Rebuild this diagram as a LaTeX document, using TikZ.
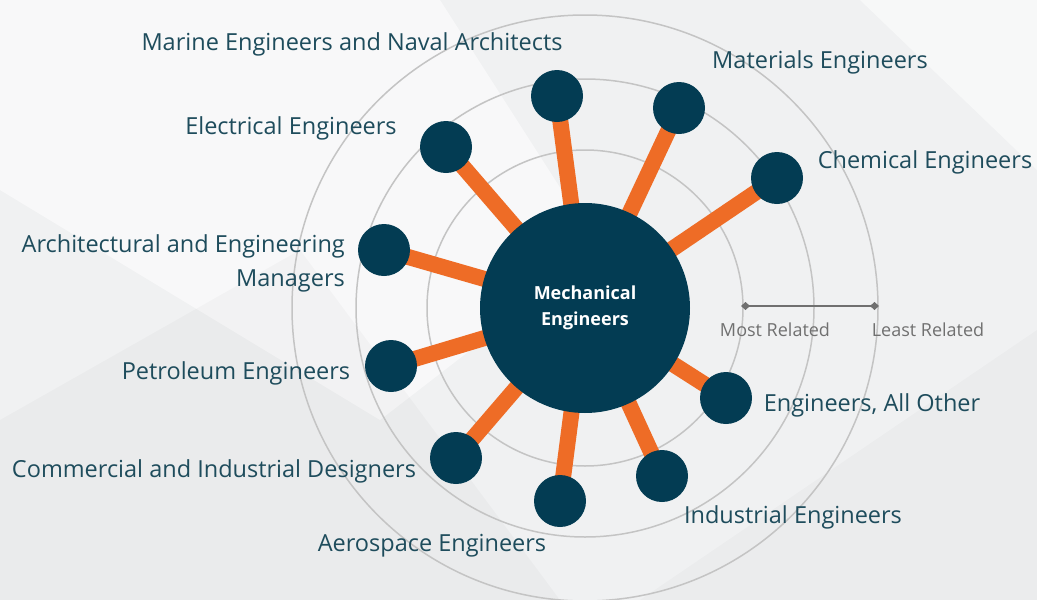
\documentclass[tikz,border=0pt]{standalone}
\usepackage{fontspec}
\setmainfont{Open Sans}
\usetikzlibrary{arrows.meta,positioning,backgrounds}
\definecolor{mechNavy}{RGB}{3,60,83}
\definecolor{mechOrange}{RGB}{238,108,38}
\definecolor{mechText}{RGB}{30,76,92}
\definecolor{mechRing}{RGB}{196,196,196}
\definecolor{mechGrey}{RGB}{112,112,112}
\definecolor{mechBack}{RGB}{240,241,242}
\pgfdeclarelayer{backdrop}
\pgfsetlayers{backdrop,background,main}

\begin{document}
\begin{tikzpicture}[x=1pt,y=-1pt,
  hub/.style={circle,fill=mechNavy,minimum size=210pt,inner sep=0pt,text=white,align=center,font=\fontsize{18}{26}\selectfont\bfseries},
  leaf/.style={circle,fill=mechNavy,minimum size=52pt,inner sep=0pt},
  job/.style={text=mechText,inner sep=0pt,align=right,font=\fontsize{23.5}{34}\selectfont},
  spoke/.style={mechOrange,line width=16pt},
  ring/.style={draw=mechRing,line width=1.5pt},
  scalebar/.style={mechGrey,line width=2pt,{Diamond[length=9pt,width=8pt]}-{Diamond[length=9pt,width=8pt]}},
  tag/.style={text=mechGrey,inner sep=0pt,font=\fontsize{18}{20}\selectfont}
]
\useasboundingbox (0,0) rectangle (1037,600);

% backdrop
\begin{pgfonlayer}{backdrop}
\fill[mechBack] (0,0) rectangle (1037,600);
\fill[white,opacity=0.55] (0,0) -- (440,0) -- (600,250) -- (380,420) -- (0,190) -- cycle;
\fill[white,opacity=0.5] (860,0) -- (1037,0) -- (1037,170) -- cycle;
\fill[black,opacity=0.025] (0,420) -- (300,250) -- (560,600) -- (0,600) -- cycle;
\fill[black,opacity=0.02] (640,600) -- (1037,330) -- (1037,600) -- cycle;
\end{pgfonlayer}

% hub and related jobs
\node[hub] (hub) at (585,308) {Mechanical\\Engineers};
\node[leaf] (marine) at (557,96) {};
\node[leaf] (materials) at (679,108) {};
\node[leaf] (chemical) at (777,178) {};
\node[leaf] (electrical) at (446,147) {};
\node[leaf] (architect) at (384,250) {};
\node[leaf] (petroleum) at (391,366) {};
\node[leaf] (designers) at (456,458) {};
\node[leaf] (aerospace) at (560,501) {};
\node[leaf] (industrial) at (662,476) {};
\node[leaf] (other) at (726,398) {};

% rings and spokes
\begin{scope}[on background layer]
\foreach \r in {158,229,293}
  \draw[ring] (hub.center) circle[radius=\r];
\foreach \j in {marine,materials,chemical,electrical,architect,petroleum,designers,aerospace,industrial,other}
  \draw[spoke] (hub.center) -- (\j.center);
\end{scope}

% labels
\node[job] at (352,44) {Marine Engineers and Naval Architects};
\node[job] at (820,62) {Materials Engineers};
\node[job] at (925,162) {Chemical Engineers};
\node[job] at (291,128) {Electrical Engineers};
\node[job,anchor=east] at (345,263) {Architectural and Engineering\\Managers};
\node[job] at (236,373) {Petroleum Engineers};
\node[job] at (214,471) {Commercial and Industrial Designers};
\node[job] at (432,546) {Aerospace Engineers};
\node[job] at (793,517) {Industrial Engineers};
\node[job] at (872,405) {Engineers, All Other};

% scale
\coordinate (most) at (741,306);
\coordinate (least) at (879,306);
\draw[scalebar] (most) -- (least);
\node[tag] at (775,330) {Most Related};
\node[tag] at (928,330) {Least Related};
\end{tikzpicture}
\end{document}
